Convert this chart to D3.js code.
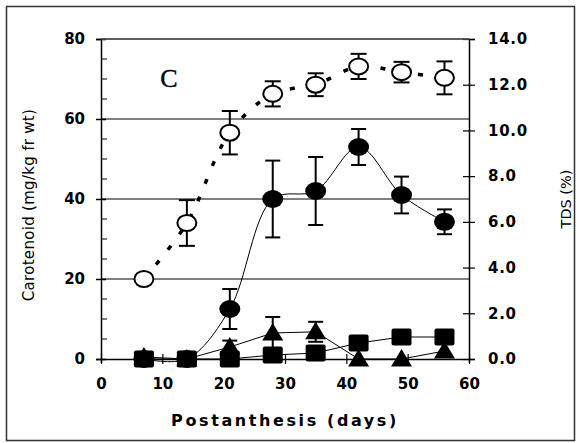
<!DOCTYPE html>
<html>
<head>
<meta charset="utf-8">
<script src="https://cdn.jsdelivr.net/npm/d3@7"></script>
<style>
    body { margin: 0; background: #fff; }
    svg { display: block; }
</style>
</head>
<body>
<div id="grafico"></div>
<script>
// days after anthesis
var dias = [7, 14, 21, 28, 35, 42, 49, 56];

// TDS (%), right axis, open circles
var tds = [3.5, 5.95, 9.9, 11.6, 12.0, 12.8, 12.55, 12.3];
var tdsErr = [0, 1.0, 0.95, 0.55, 0.5, 0.55, 0.45, 0.72];

// carotenoid (mg/kg fr wt), left axis
var totalCar = [0, 0, 12.5, 40, 42, 53, 41, 34.3];
var totalErr = [0, 0, 5, 9.6, 8.5, 4.5, 4.6, 3.1];
var triCar = [0.5, 0, 3, 6.5, 6.8, 0, 0, 2];
var triErr = [0, 0, 1.6, 4, 2.5, 0, 0, 0];
var cuaCar = [0, 0, 0, 1, 1.5, 4, 5.5, 5.5];

var xTicks = [0, 10, 20, 30, 40, 50, 60];
var yLeftTicks = [0, 20, 40, 60, 80];
var yRightTicks = [0, 2, 4, 6, 8, 10, 12, 14];
var gridLines = [20, 40, 60, 80];

var W = 580, H = 443;
var m = {top: 39, right: 111, bottom: 84, left: 101};

var svg = d3.select("#grafico").append("svg")
    .attr("width", W)
    .attr("height", H);

// outer frame
svg.append("rect")
    .attr("x", 6.5).attr("y", 6.5)
    .attr("width", 568).attr("height", 434)
    .attr("fill", "none")
    .attr("stroke", "#333")
    .attr("stroke-width", 1.5);

var x = d3.scaleLinear().domain([0, 60]).range([m.left, W - m.right]);
var yL = d3.scaleLinear().domain([0, 80]).range([H - m.bottom, m.top]);
var yR = d3.scaleLinear().domain([0, 14]).range([H - m.bottom, m.top]);

// grid lines
svg.selectAll(".grid")
    .data(gridLines)
    .enter().append("line")
    .attr("x1", x(0)).attr("x2", x(60))
    .attr("y1", function(d) { return yL(d); })
    .attr("y2", function(d) { return yL(d); })
    .attr("stroke", "#555")
    .attr("stroke-width", 1.5);

var tickFont = "bold 15px 'DejaVu Sans', sans-serif";

// left axis
var ejeIzq = d3.axisLeft(yL).tickValues(yLeftTicks).tickSize(5).tickPadding(12);
var gIzq = svg.append("g").attr("transform", "translate(" + x(0) + ",0)").call(ejeIzq);
gIzq.select(".domain").attr("stroke-width", 1.5);
gIzq.selectAll(".tick line").attr("x2", -5).attr("x1", 5).attr("stroke-width", 1.5);
gIzq.selectAll("text").style("font", tickFont).attr("x", -16);
// minor ticks inside
svg.selectAll(".minorL")
    .data(d3.range(5, 80, 5).filter(function(d) { return d % 20 != 0; }))
    .enter().append("line")
    .attr("x1", x(0)).attr("x2", x(0) + 6)
    .attr("y1", function(d) { return yL(d); })
    .attr("y2", function(d) { return yL(d); })
    .attr("stroke", "#000");

// right axis
var ejeDer = d3.axisRight(yR).tickValues(yRightTicks).tickFormat(d3.format(".1f")).tickSize(6);
var gDer = svg.append("g").attr("transform", "translate(" + x(60) + ",0)").call(ejeDer);
gDer.select(".domain").attr("stroke-width", 1.5);
gDer.selectAll(".tick line").attr("x1", -6).attr("x2", 6).attr("stroke-width", 1.2);
gDer.selectAll("text").style("font", tickFont).attr("x", 19).style("letter-spacing", "0.7px");

// bottom axis
var ejeX = d3.axisBottom(x).tickValues(xTicks).tickSize(4);
var gX = svg.append("g").attr("transform", "translate(0," + yL(0) + ")").call(ejeX);
gX.select(".domain").attr("stroke-width", 1.5);
gX.selectAll(".tick line").attr("y1", -5).attr("y2", 5).attr("stroke-width", 1.2);
gX.selectAll("text").style("font", tickFont).attr("y", 19);

// top border line
svg.append("line")
    .attr("x1", x(0)).attr("x2", x(60))
    .attr("y1", yL(80)).attr("y2", yL(80))
    .attr("stroke", "#555").attr("stroke-width", 1.5);

// axis titles
svg.append("text")
    .attr("transform", "translate(34," + yL(38.5) + ")rotate(-90)")
    .attr("text-anchor", "middle")
    .style("font", "15px 'DejaVu Sans', sans-serif")
    .style("letter-spacing", "0.3px")
    .text("Carotenoid (mg/kg fr wt)");

svg.append("text")
    .attr("transform", "translate(571," + yR(7.0) + ")rotate(-90)")
    .attr("text-anchor", "middle")
    .style("font", "14.5px 'DejaVu Sans', sans-serif")
    .text("TDS (%)");

svg.append("text")
    .attr("x", 285).attr("y", 426)
    .attr("text-anchor", "middle")
    .style("font", "bold 16px 'DejaVu Sans', sans-serif")
    .style("letter-spacing", "2.6px")
    .text("Postanthesis (days)");

svg.append("text")
    .attr("x", 169).attr("y", 87)
    .attr("text-anchor", "middle")
    .style("font", "26px 'Liberation Serif', serif")
    .style("stroke", "#000").style("stroke-width", 0.4)
    .text("C");

// lines
var lineaTds = d3.line()
    .x(function(d, i) { return x(dias[i]); })
    .y(function(d) { return yR(d); })
    .curve(d3.curveCatmullRom);

var lineaCurva = d3.line()
    .x(function(d, i) { return x(dias[i]); })
    .y(function(d) { return yL(d); })
    .curve(d3.curveCatmullRom);

var lineaRecta = d3.line()
    .x(function(d, i) { return x(dias[i]); })
    .y(function(d) { return yL(d); });

svg.append("path")
    .attr("d", lineaTds(tds))
    .attr("fill", "none").attr("stroke", "#000")
    .attr("stroke-width", 3.5)
    .attr("stroke-dasharray", "5,14");

svg.append("path")
    .attr("d", lineaCurva(totalCar))
    .attr("fill", "none").attr("stroke", "#000").attr("stroke-width", 1);

svg.append("path")
    .attr("d", lineaRecta(triCar))
    .attr("fill", "none").attr("stroke", "#000").attr("stroke-width", 1);

svg.append("path")
    .attr("d", lineaRecta(cuaCar))
    .attr("fill", "none").attr("stroke", "#000").attr("stroke-width", 1);

// error bars
function barrasError(valores, errores, escala, cap) {
    var g = svg.append("g");
    valores.forEach(function(v, i) {
        if (!errores[i]) return;
        var cx = x(dias[i]);
        var y1 = escala(v + errores[i]), y2 = escala(Math.max(0, v - errores[i]));
        g.append("line").attr("x1", cx).attr("x2", cx).attr("y1", y1).attr("y2", y2)
            .attr("stroke", "#000").attr("stroke-width", 2);
        [y1, y2].forEach(function(yy) {
            g.append("line").attr("x1", cx - cap / 2).attr("x2", cx + cap / 2)
                .attr("y1", yy).attr("y2", yy)
                .attr("stroke", "#000").attr("stroke-width", 2);
        });
    });
}

barrasError(tds, tdsErr, yR, 16);
barrasError(totalCar, totalErr, yL, 15);
barrasError(triCar, triErr, yL, 15);

// markers
svg.selectAll(".abierto")
    .data(tds)
    .enter().append("ellipse")
    .attr("cx", function(d, i) { return x(dias[i]); })
    .attr("cy", function(d) { return yR(d); })
    .attr("rx", 9.5).attr("ry", 8)
    .attr("fill", "#fff").attr("stroke", "#000").attr("stroke-width", 2);

svg.selectAll(".lleno")
    .data(totalCar)
    .enter().append("ellipse")
    .attr("cx", function(d, i) { return x(dias[i]); })
    .attr("cy", function(d) { return yL(d); })
    .attr("rx", 10.5).attr("ry", 9)
    .attr("fill", "#000");

svg.selectAll(".triangulo")
    .data(triCar)
    .enter().append("path")
    .attr("transform", function(d, i) { return "translate(" + x(dias[i]) + "," + yL(d) + ")"; })
    .attr("d", "M0,-10L10.5,7.5L-10.5,7.5Z")
    .attr("fill", "#000");

svg.selectAll(".cuadro")
    .data(cuaCar)
    .enter().append("rect")
    .attr("x", function(d, i) { return x(dias[i]) - 10; })
    .attr("y", function(d) { return yL(d) - 8.5; })
    .attr("width", 20).attr("height", 17)
    .attr("rx", 2)
    .attr("fill", "#000");
</script>
</body>
</html>
